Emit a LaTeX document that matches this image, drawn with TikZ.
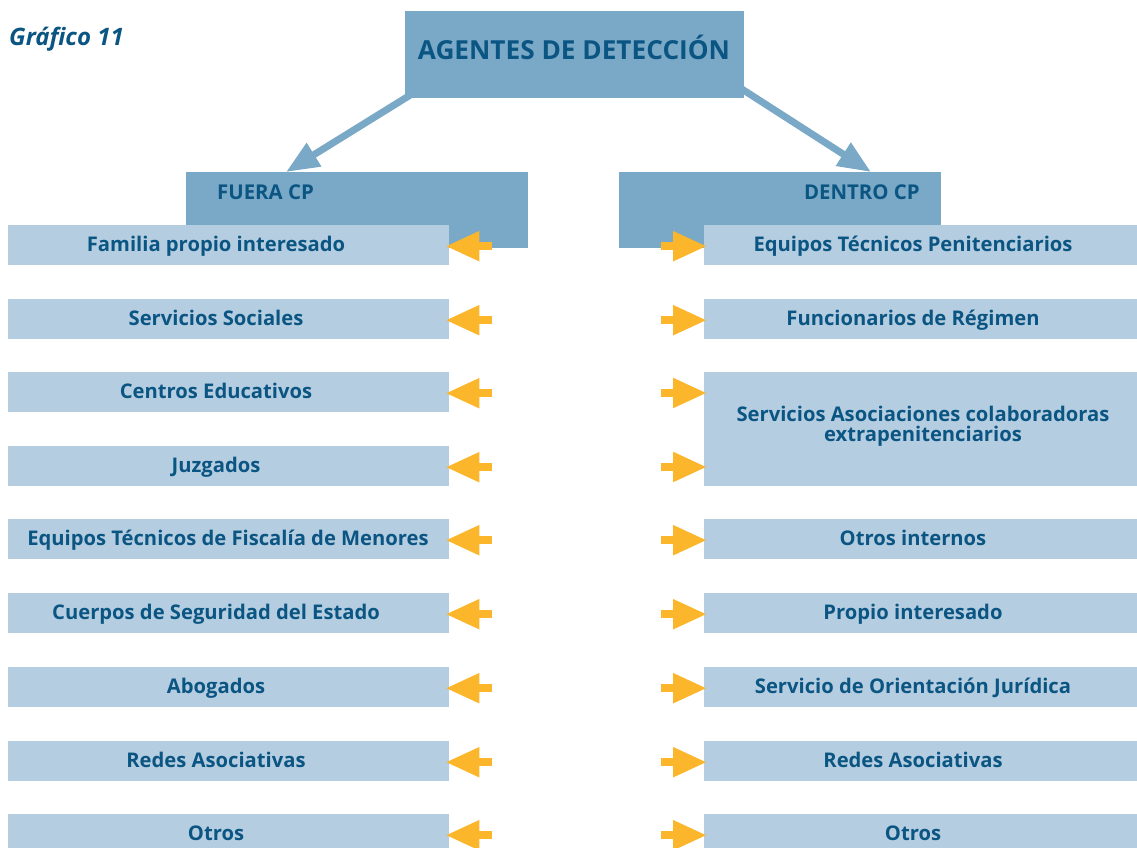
\documentclass[tikz,border=0pt]{standalone}
\usepackage{fontspec}
\setmainfont{Open Sans}
\usetikzlibrary{arrows.meta,calc,backgrounds}
\definecolor{hdr}{HTML}{7AA8C7}
\definecolor{itm}{HTML}{B4CDE0}
\definecolor{txt}{HTML}{0B5583}
\definecolor{org}{HTML}{FBB62B}
\begin{document}
\begin{tikzpicture}[x=1pt,y=-1pt,
  hdrbox/.style={fill=hdr,draw=none,inner sep=0pt,anchor=north west},
  itmbox/.style={fill=itm,draw=none,inner sep=0pt,anchor=north west,minimum height=40pt},
  lbl/.style={text=txt,font=\fontsize{20.2}{20}\selectfont\bfseries,anchor=base,inner sep=0pt,align=center},
  hlbl/.style={text=txt,font=\fontsize{20.4}{22}\selectfont\bfseries,inner sep=0pt},
  oarrow/.style={draw=org,line width=8pt,-{Triangle[length=34pt,width=28pt]}},
  barrow/.style={draw=hdr,line width=7pt,-{Triangle[length=33pt,width=26pt]}}]
\useasboundingbox (0,0) rectangle (1137,848);
% title
\node[text=txt,font=\fontsize{24}{28}\selectfont\bfseries\itshape,anchor=base west,inner sep=0pt] (G) at (9,46) {Gráfico 11};
\node[hdrbox,minimum width=339pt,minimum height=87pt] (T) at (405,11) {};
\node[text=txt,font=\fontsize{26.2}{30}\selectfont\bfseries,anchor=base,inner sep=0pt] (Tt) at (574,60) {AGENTES DE DETECCIÓN};
% headers
\node[hdrbox,minimum width=342pt,minimum height=76pt] (F) at (186,172) {};
\node[hlbl,anchor=base west] (Ft) at (217,199) {FUERA CP};
\node[hdrbox,minimum width=322pt,minimum height=76pt] (D) at (619,172) {};
\node[hlbl,anchor=base east] (Dt) at (920,199) {DENTRO CP};
% blue arrows
\begin{scope}[on background layer]
\draw[barrow] ($(T.south west)+(16,-10)$) -- ($(F.north west)+(100,0)$);
\draw[barrow] ($(T.south east)+(-16,-18)$) -- ($(D.north west)+(252,0)$);
\end{scope}
% left column
\node[itmbox,minimum width=441pt] (L1) at (8,225) {};
\node[itmbox,minimum width=441pt] (L2) at (8,299) {};
\node[itmbox,minimum width=441pt] (L3) at (8,372) {};
\node[itmbox,minimum width=441pt] (L4) at (8,446) {};
\node[itmbox,minimum width=441pt] (L5) at (8,519) {};
\node[itmbox,minimum width=441pt] (L6) at (8,593) {};
\node[itmbox,minimum width=441pt] (L7) at (8,667) {};
\node[itmbox,minimum width=441pt] (L8) at (8,741) {};
\node[itmbox,minimum width=441pt] (L9) at (8,814) {};
\node[lbl] (L1t) at (216,251) {Familia propio interesado};
\node[lbl] (L2t) at (216,325) {Servicios Sociales};
\node[lbl] (L3t) at (216,398) {Centros Educativos};
\node[lbl] (L4t) at (216,472) {Juzgados};
\node[lbl] (L5t) at (228,545) {Equipos Técnicos de Fiscalía de Menores};
\node[lbl] (L6t) at (216,619) {Cuerpos de Seguridad del Estado};
\node[lbl] (L7t) at (216,693) {Abogados};
\node[lbl] (L8t) at (216,767) {Redes Asociativas};
\node[lbl] (L9t) at (216,840) {Otros};
% right column
\node[itmbox,minimum width=433pt] (R1) at (704,225) {};
\node[itmbox,minimum width=433pt] (R2) at (704,299) {};
\node[itmbox,minimum width=433pt,minimum height=114pt] (R3) at (704,372) {};
\node[itmbox,minimum width=433pt] (R4) at (704,519) {};
\node[itmbox,minimum width=433pt] (R5) at (704,593) {};
\node[itmbox,minimum width=433pt] (R6) at (704,667) {};
\node[itmbox,minimum width=433pt] (R7) at (704,741) {};
\node[itmbox,minimum width=433pt] (R8) at (704,814) {};
\node[lbl] (R1t) at (913,251) {Equipos Técnicos Penitenciarios};
\node[lbl] (R2t) at (913,325) {Funcionarios de Régimen};
\node[lbl,anchor=center] (R3t) at (923,426.5) {Servicios Asociaciones colaboradoras\\extrapenitenciarios};
\node[lbl] (R4t) at (913,545) {Otros internos};
\node[lbl] (R5t) at (913,619) {Propio interesado};
\node[lbl] (R6t) at (913,693) {Servicio de Orientación Jurídica};
\node[lbl] (R7t) at (913,767) {Redes Asociativas};
\node[lbl] (R8t) at (913,840) {Otros};
% orange arrows left
\foreach \i in {1,...,9} {
  \coordinate (ls\i) at ($(L\i.east)+(43,1)$);
  \draw[oarrow] (ls\i) -- ($(L\i.east)+(-4,1)$);
}
% orange arrows right
\foreach \i/\r in {1/R1,2/R2,5/R4,6/R5,7/R6,8/R7,9/R8} {
  \coordinate (rs\i) at ($(\r.west)+(-43,1)$);
  \draw[oarrow] (rs\i) -- ($(\r.west)+(3,1)$);
}
\coordinate (rs3) at ($(R3.north west)+(-43,21)$);
\draw[oarrow] (rs3) -- ($(R3.north west)+(3,21)$);
\coordinate (rs4) at ($(R3.north west)+(-43,95)$);
\draw[oarrow] (rs4) -- ($(R3.north west)+(3,95)$);
\end{tikzpicture}
\end{document}
